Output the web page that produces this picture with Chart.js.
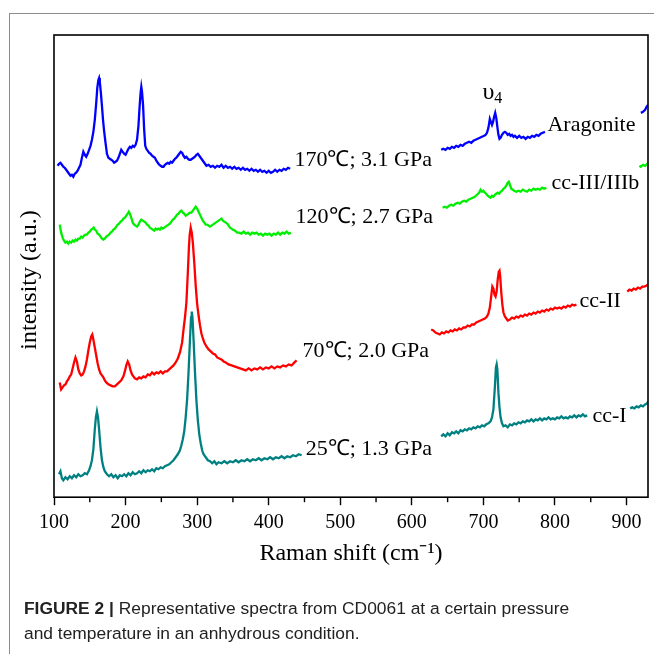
<!DOCTYPE html>
<html>
<head>
<meta charset="utf-8">
<script src="https://cdn.jsdelivr.net/npm/chart.js@4.4.1/dist/chart.umd.min.js"></script>
<style>
  html, body { margin: 0; padding: 0; background: #fff; }
  #wrap { position: relative; width: 654px; height: 654px; overflow: hidden; }
  #frame { position: absolute; left: 9px; top: 13px; right: -2px; bottom: -2px;
           border-top: 1px solid #8c8c8c; border-left: 1px solid #8c8c8c; }
  #chart { position: absolute; left: 0; top: 0; }
  #caption { position: absolute; left: 24px; top: 596px; font-family: "Liberation Sans", Arial, sans-serif;
             font-size: 17.4px; line-height: 25px; color: #222; white-space: nowrap; }
</style>
</head>
<body>
<div id="wrap">
  <div id="frame"></div>
  <canvas id="chart" width="654" height="654"></canvas>
  <div id="caption"><b>FIGURE 2 |</b> Representative spectra from CD0061 at a certain pressure<br>and temperature in an anhydrous condition.</div>
</div>
<script>
// Raman shift (cm-1) / intensity (a.u., offset per trace). null = break where a label sits.
const spec25 = [
  [107,23],[109,26],[111,19],[113,17],[116,20],[119,18],[122,21],[125,19],[128,22],[131,20],[134,23],[137,21],[140,22],[143,24],[146,23],[149,27],[151,31],[153,37],[155,48],[157,68],[158.5,80],[160,86],[161.5,80],[163,68],[165,50],[167,37],[169,30],[171,26],[174,23],[177,21],[180,23],[183,20],[186,22],[189,19],[192,22],[195,21],[198,23],[201,21],[204,24],[207,22],[210,25],[213,23],[216,24],[219,26],[222,24],[225,27],[228,25],[231,27],[234,26],[237,28],[240,26],[243,29],[246,28],[249,30],[252,29],[255,31],[258,32],[261,33],[264,35],[267,37],[270,40],[273,43],[276,47],[278,52],[280,58],[282,66],[284,80],[286,98],[288,125],[290,158],[291.5,180],[292.5,186],[293.5,180],[295,158],[297,125],[299,97],[301,77],[303,63],[305,54],[307,47],[309,43],[312,40],[315,37],[318,36],[321,34],[324,36],[327,33],[330,35],[334,34],[338,36],[342,34],[346,36],[350,35],[354,37],[358,35],[362,37],[366,36],[370,38],[374,36],[378,38],[382,37],[386,39],[390,37],[394,39],[398,38],[402,40],[406,38],[410,40],[414,39],[418,41],[422,39],[426,41],[430,40],[434,42],[438,41],[442,43],[446,42],
  null,
  [641,61],[644,63],[647,61],[650,64],[653,62],[656,65],[659,64],[662,66],[665,64],[668,67],[671,66],[674,68],[677,67],[680,69],[683,68],[686,70],[689,69],[692,71],[695,70],[698,72],[701,71],[704,73],[707,74],[710,76],[712,80],[714,88],[716,110],[717.5,130],[718.5,133],[719.5,128],[721,105],[722.5,90],[724,80],[726,74],[728,71],[731,72],[734,70],[737,73],[740,72],[743,74],[746,73],[749,75],[752,74],[755,76],[758,75],[761,77],[764,76],[767,78],[770,76],[773,78],[776,77],[779,79],[782,77],[785,79],[788,78],[791,80],[794,78],[797,79],[800,78],[803,80],[806,79],[809,81],[812,79],[815,80],[818,79],[821,81],[824,80],[827,82],[830,80],[833,82],[836,81],[839,83],[842,81],[845,82],
  null,
  [905,89],[908,90],[911,89],[914,91],[917,90],[920,92],[923,91],[926,93],[929,94],[930,96]
];
const spec70 = [
  [108,115],[110,108],[112,110],[114,112],[116,113],[118,116],[120,118],[122,121],[124,123],[126,129],[128,135],[130,140],[132,136],[134,128],[136,124],[138,122],[140,123],[142,126],[144,131],[146,138],[148,147],[150,155],[152,161],[153.5,163],[155,158],[157,150],[159,142],[161,134],[163,128],[165,124],[167,122],[169,120],[171,117],[173,115],[176,113],[179,112],[182,111],[185,111],[188,113],[191,115],[194,117],[197,121],[199,126],[201,132],[203,136],[205,133],[207,127],[209,123],[211,121],[213,119],[216,118],[219,120],[222,119],[225,121],[228,120],[231,123],[234,122],[237,125],[240,123],[243,125],[246,124],[249,126],[252,124],[255,126],[258,126],[261,128],[264,130],[267,132],[270,135],[273,139],[276,145],[279,155],[281,168],[283,180],[285,195],[287,225],[288.5,250],[289.5,262],[291,270],[292.5,265],[294,255],[296,235],[298,212],[300,194],[302,182],[304,172],[306,164],[308,159],[310,155],[313,151],[316,148],[319,146],[322,144],[325,143],[328,140],[331,139],[334,138],[337,136],[340,135],[344,133],[348,132],[352,131],[356,130],[360,129],[364,128],[368,127],[372,129],[376,127],[380,129],[384,128],[388,130],[392,128],[396,130],[400,129],[404,131],[408,129],[412,131],[416,130],[420,132],[424,131],[428,133],[432,132],[436,135],[439,137],
  null,
  [627,168],[630,167],[633,165],[636,164],[639,163],[642,165],[645,164],[648,166],[651,165],[654,167],[657,166],[660,168],[663,167],[666,169],[669,168],[672,170],[675,170],[678,172],[681,171],[684,173],[687,173],[690,175],[693,176],[696,177],[699,178],[702,179],[705,181],[707,184],[709,190],[711,202],[712.5,211],[714,209],[715.5,203],[717,201],[718.5,206],[720,218],[721.5,226],[722.5,227],[723.5,221],[725,205],[726.5,193],[728,185],[730,181],[732,179],[734,177],[737,178],[740,180],[743,179],[746,181],[749,180],[752,182],[755,181],[758,183],[761,182],[764,184],[767,183],[770,185],[773,184],[776,186],[779,185],[782,187],[785,186],[788,188],[791,187],[794,189],[797,188],[800,190],[803,189],[806,190],[809,189],[812,191],[815,190],[818,192],[821,191],[824,193],[827,192],[830,193],
  null,
  [901,206],[904,208],[907,207],[910,209],[913,208],[916,210],[919,209],[922,211],[925,211],[928,212],[930,213]
];
const spec120 = [
  [108,273],[110,265],[112,260],[114,257],[116,255],[118,256],[120,254],[122,256],[124,255],[126,257],[128,256],[130,258],[132,257],[134,259],[136,259],[138,261],[140,260],[142,262],[144,263],[146,263],[148,265],[150,266],[152,268],[154,269],[155.5,270],[157,268],[159,267],[161,264],[163,263],[165,261],[167,259],[169,258],[171,259],[173,261],[175,262],[177,263],[179,265],[181,266],[183,268],[185,269],[187,271],[189,273],[191,274],[193,276],[195,277],[197,279],[199,280],[201,282],[203,284],[204.5,286],[206,284],[208,280],[210,275],[212,273],[214,272],[216,271],[218,273],[220,276],[222,278],[224,277],[226,276],[228,275],[230,273],[232,272],[234,270],[236,269],[238,268],[240,267],[242,269],[244,268],[246,269],[248,268],[250,270],[252,269],[254,270],[256,271],[258,272],[260,273],[262,274],[264,276],[266,278],[268,279],[270,281],[272,283],[274,284],[276,286],[278,287],[280,285],[282,284],[284,282],[286,283],[288,284],[290,285],[292,285],[294,287],[296,289],[298,291],[300,289],[302,286],[304,283],[306,280],[308,277],[310,275],[312,273],[314,273],[316,272],[318,271],[320,272],[322,273],[324,274],[326,275],[328,276],[330,277],[332,278],[334,279],[336,277],[338,276],[340,275],[342,274],[344,272],[346,270],[348,269],[350,268],[353,267],[356,265],[359,265],[362,264],[365,266],[368,264],[371,265],[374,263],[377,265],[380,264],[383,265],[386,263],[389,264],[392,262],[395,264],[398,263],[401,264],[404,262],[407,264],[410,263],[413,265],[416,263],[419,265],[422,264],[425,266],[428,264],[431,265],
  null,
  [643,290],[646,291],[649,290],[652,292],[655,293],[658,292],[661,294],[664,295],[667,294],[670,296],[673,297],[676,296],[679,298],[682,299],[685,300],[688,301],[691,303],[694,305],[696,308],[698,306],[700,307],[702,305],[704,304],[706,302],[708,301],[710,300],[712,302],[714,301],[716,303],[718,304],[720,305],[722,304],[724,306],[726,307],[728,309],[730,310],[732,312],[734,315],[735.5,316],[737,313],[739,309],[741,308],[743,307],[746,306],[749,307],[752,306],[755,308],[758,307],[761,306],[764,308],[767,307],[770,309],[773,308],[776,309],[779,308],[782,310],[785,309],[788,310],
  null,
  [918,332],[920,331],[923,333],[926,332],[929,334],[930,333]
];
const spec170 = [
  [105,332],[107,334],[109,335],[111,333],[113,331],[115,330],[117,328],[119,326],[121,324],[123,322],[125,323],[127,321],[129,324],[131,325],[133,327],[135,330],[137,333],[139,340],[141,346],[143,343],[145,341],[147,344],[149,348],[151,352],[153,358],[155,366],[157,378],[159,395],[160.5,410],[162,418],[163,420],[164,416],[165.5,405],[167,392],[168.5,378],[170,367],[172,355],[174,344],[176,340],[178,339],[180,338],[182,337],[184,335],[186,336],[188,337],[190,340],[192,344],[194,348],[196,346],[198,344],[200,343],[202,346],[204,349],[206,351],[208,350],[210,352],[212,351],[214,353],[216,358],[218,372],[219.5,390],[221,405],[222,411],[223,406],[224.5,392],[226,368],[227.5,352],[229,349],[231,347],[233,345],[235,344],[237,342],[239,341],[241,340],[243,337],[245,335],[247,333],[249,332],[251,331],[253,331],[255,333],[257,334],[259,335],[261,334],[263,336],[265,335],[267,337],[269,339],[271,340],[273,342],[275,344],[277,346],[279,345],[281,342],[283,340],[285,341],[287,339],[289,338],[291,338],[293,339],[295,340],[297,341],[299,343],[301,344],[303,342],[305,340],[307,338],[309,336],[311,334],[313,332],[316,333],[319,331],[322,332],[325,330],[328,332],[331,331],[334,333],[337,330],[340,332],[343,330],[346,331],[349,329],[352,331],[355,329],[358,330],[361,328],[364,330],[367,328],[370,329],[373,327],[376,329],[379,327],[382,328],[385,326],[388,328],[391,326],[394,327],[397,325],[400,327],[403,325],[406,326],[409,328],[412,326],[415,328],[418,327],[421,329],[424,328],[427,330],[430,329],
  null,
  [641,348],[644,349],[647,348],[650,350],[653,349],[656,351],[659,350],[662,352],[665,351],[668,353],[671,352],[674,354],[677,355],[680,356],[683,355],[686,357],[689,358],[692,359],[695,360],[698,361],[701,362],[703,363],[705,365],[707,370],[709,379],[710.5,376],[712,373],[713.5,376],[715,381],[716.5,385],[718,380],[719.5,371],[721,363],[722.5,359],[724,360],[726,363],[728,365],[730,366],[732,365],[734,363],[736,364],[738,362],[740,363],[742,361],[744,362],[747,360],[750,362],[753,360],[756,361],[759,359],[762,361],[765,360],[768,362],[771,361],[774,363],[777,362],[780,364],[783,365],[786,366],
  null,
  [920,385],[923,386],[926,388],[928,391],[930,393]
];

const traceNames = ["25℃; 1.3 GPa", "70℃; 2.0 GPa", "120℃; 2.7 GPa", "170℃; 3.1 GPa"];
const phaseNames = ["cc-I", "cc-II", "cc-III/IIIb", "Aragonite"];
const colors = ["#008080", "#ff0000", "#00ee00", "#0000ff"];
const xTicks = [100, 200, 300, 400, 500, 600, 700, 800, 900];
const minorTicks = [150, 250, 350, 450, 550, 650, 750, 850];

const serif = "'Liberation Serif', 'Times New Roman', serif";

const toPoints = arr => arr.map(p => p ? { x: p[0], y: p[1] } : { x: null, y: null });

// text annotations in data units
const notes = [
  { text: traceNames[3], at: [436, 338] },
  { text: traceNames[2], at: [437.6, 280] },
  { text: traceNames[1], at: [447.4, 146] },
  { text: traceNames[0], at: [451.6, 48] },
  { text: phaseNames[3], at: [789.5, 373] },
  { text: phaseNames[2], at: [795, 315] },
  { text: phaseNames[1], at: [834.2, 196] },
  { text: phaseNames[0], at: [852.3, 81] }
];

const decor = {
  id: "decor",
  afterDatasetsDraw(chart) {
    const { ctx, scales: { x, y } } = chart;
    ctx.save();
    ctx.fillStyle = "#000";
    ctx.font = "22px " + serif;
    ctx.textAlign = "left";
    ctx.textBaseline = "middle";
    notes.forEach(n => ctx.fillText(n.text, x.getPixelForValue(n.at[0]), y.getPixelForValue(n.at[1])));
    // nu4 mark
    const ux = x.getPixelForValue(698.7), uy = y.getPixelForValue(405);
    ctx.font = "24px " + serif;
    ctx.fillText("υ", ux, uy);
    const w = ctx.measureText("υ").width;
    ctx.font = "16px " + serif;
    ctx.fillText("4", ux + w, uy + 6);
    ctx.restore();
  },
  afterDraw(chart) {
    const { ctx, chartArea: a, scales: { x } } = chart;
    ctx.save();
    ctx.strokeStyle = "#000";
    ctx.lineWidth = 1.6;
    ctx.strokeRect(a.left, a.top, a.right - a.left, a.bottom - a.top);
    ctx.lineWidth = 1.4;
    minorTicks.forEach(v => {
      const px = x.getPixelForValue(v);
      ctx.beginPath();
      ctx.moveTo(px, a.bottom);
      ctx.lineTo(px, a.bottom + 5);
      ctx.stroke();
    });
    ctx.translate(30, 280);
    ctx.rotate(-Math.PI / 2);
    ctx.fillStyle = "#000";
    ctx.font = "24px " + serif;
    ctx.textAlign = "center";
    ctx.textBaseline = "middle";
    ctx.fillText("intensity (a.u.)", 0, 0);
    ctx.restore();
  }
};

new Chart(document.getElementById("chart"), {
  type: "line",
  data: {
    datasets: [spec25, spec70, spec120, spec170].map((s, i) => ({
      label: traceNames[i],
      data: toPoints(s),
      borderColor: colors[i],
      borderWidth: 2.3,
      pointRadius: 0,
      tension: 0,
      spanGaps: false
    }))
  },
  options: {
    responsive: false,
    animation: false,
    events: [],
    layout: { padding: { left: 54, right: 6, top: 35, bottom: 86 } },
    plugins: { legend: { display: false }, tooltip: { enabled: false } },
    scales: {
      x: {
        type: "linear",
        min: 100,
        max: 930,
        afterBuildTicks: axis => { axis.ticks = xTicks.map(v => ({ value: v })); },
        ticks: { color: "#000", font: { family: serif, size: 20 }, padding: 6, maxRotation: 0 },
        grid: { drawOnChartArea: false, drawTicks: true, tickLength: 8, tickColor: "#000", tickWidth: 1.4 },
        border: { display: false },
        title: { display: true, text: "Raman shift (cm⁻¹)", color: "#000", font: { family: serif, size: 24 }, padding: { top: -2, bottom: 0 } }
      },
      y: { display: false, min: 0, max: 463 }
    }
  },
  plugins: [decor]
});
</script>
</body>
</html>
